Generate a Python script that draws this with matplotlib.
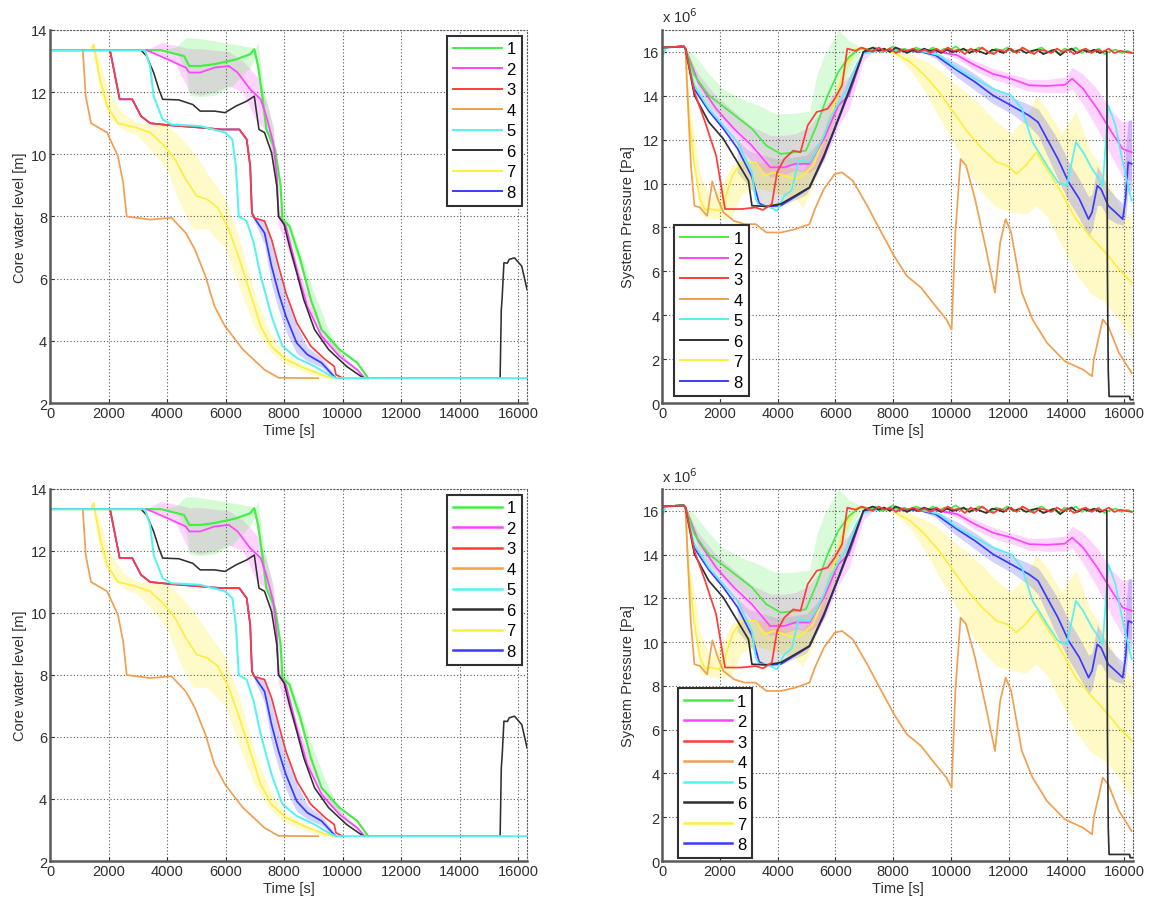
import numpy as np
import matplotlib
matplotlib.use("Agg")
import matplotlib.pyplot as plt
from matplotlib.lines import Line2D

plt.rcParams['font.family'] = ['Liberation Sans', 'DejaVu Sans']

labels = ['1', '2', '3', '4', '5', '6', '7', '8']
colors = ['#44ee44', '#ff44ff', '#ff3b3b', '#f0a050', '#55f2f2', '#303030', '#ffee40', '#3a3aff']

# ---------------- Core water level [m] ----------------
lv_t1 = [0, 3790, 4580, 4760, 5130, 5620, 6350, 6840, 6980, 7110, 7270, 7390, 7690, 7880, 7940, 8180, 8550, 8910, 9280, 9890, 10500, 10870]
lv_y1 = [13.35, 13.35, 13.16, 12.84, 12.84, 12.9, 13.05, 13.22, 13.38, 12.84, 11.77, 10.8, 10.16, 8.98, 7.9, 7.69, 6.62, 5.33, 4.36, 3.72, 3.29, 2.8]
lv_t2 = [0, 3300, 3910, 4640, 4760, 5130, 5620, 6110, 6410, 6840, 7200, 7390, 7630, 7750, 7810, 8060, 8430, 8790, 9280, 9890, 10500, 10750]
lv_y2 = [13.35, 13.35, 13.1, 12.79, 12.63, 12.63, 12.79, 12.84, 12.63, 12.09, 11.77, 11.23, 10.37, 9.3, 8.0, 7.69, 6.29, 5.11, 4.15, 3.5, 3.07, 2.8]
lv_t3 = [0, 2050, 2380, 2810, 3110, 3420, 4150, 5130, 5860, 6470, 6720, 6840, 6900, 6960, 7330, 7570, 7810, 8060, 8430, 8910, 9400, 9710, 9770, 10010]
lv_y3 = [13.35, 13.35, 11.77, 11.77, 11.23, 11.0, 10.93, 10.86, 10.8, 10.8, 10.48, 9.62, 8.12, 7.96, 7.85, 7.26, 6.4, 5.54, 4.58, 3.83, 3.4, 3.18, 2.91, 2.8]
lv_t4 = [0, 1120, 1220, 1400, 1950, 2320, 2500, 2620, 2930, 3420, 4150, 4640, 4950, 5310, 5620, 5980, 6590, 7330, 7810, 9160]
lv_y4 = [13.35, 13.35, 11.87, 11.0, 10.7, 9.94, 9.08, 8.0, 7.96, 7.9, 7.96, 7.47, 6.94, 6.08, 5.11, 4.47, 3.72, 3.07, 2.81, 2.8]
lv_t5 = [0, 3240, 3420, 3540, 3850, 4150, 5130, 5980, 6230, 6350, 6450, 6720, 6960, 7200, 7570, 7940, 8430, 9040, 9520, 9770, 16300]
lv_y5 = [13.35, 13.35, 12.84, 11.87, 11.12, 10.96, 10.91, 10.7, 10.48, 9.62, 8.0, 7.85, 7.15, 6.08, 4.79, 3.83, 3.45, 3.18, 2.91, 2.8, 2.8]
lv_t6 = [0, 3110, 3300, 3540, 3720, 3850, 4400, 4880, 5130, 5620, 5980, 6350, 6720, 6980, 7140, 7330, 7570, 7750, 7810, 8000,
         8180, 8430, 8670, 9040, 9520, 10130, 10620, 10750, 15380, 15420, 15450, 15510, 15630, 15690, 15870, 16120, 16300]
lv_y6 = [13.35, 13.35, 13.16, 12.63, 12.09, 11.77, 11.75, 11.6, 11.39, 11.39, 11.34, 11.55, 11.71, 11.87, 10.8, 10.7, 10.05, 8.98, 8.0, 7.74,
         7.05, 6.19, 5.33, 4.36, 3.72, 3.18, 2.86, 2.8, 2.8, 5.0, 5.4, 6.51, 6.5, 6.62, 6.67, 6.4, 5.65]
lv_t7 = [0, 1400, 1490, 1710, 1950, 2320, 2930, 3420, 3910, 4270, 4640, 5010, 5370, 5740, 6110, 6470, 6840, 7200, 7570, 8060, 8670, 9280, 9650]
lv_y7 = [13.35, 13.35, 13.54, 12.41, 11.55, 11.0, 10.86, 10.7, 10.27, 9.84, 9.19, 8.66, 8.55, 8.28, 7.58, 6.62, 5.54, 4.47, 3.82, 3.40, 3.13, 2.91, 2.8]
lv_t8 = [0, 2050, 2380, 2810, 3110, 3420, 4150, 5130, 5860, 6470, 6720, 6840, 6900, 7020, 7330, 7570, 7810, 8060, 8430, 8790, 9280, 9650, 9770]
lv_y8 = [13.35, 13.35, 11.77, 11.77, 11.23, 11.0, 10.93, 10.86, 10.8, 10.8, 10.48, 9.62, 8.12, 7.9, 7.47, 6.4, 5.54, 4.79, 3.93, 3.56, 3.29, 2.91, 2.8]

# uncertainty bands (level)
lvb_t1 = [3800, 4300, 4640, 4760, 5130, 5620, 6230, 6840, 7000, 7110, 7270, 7600, 8000, 8500, 9000, 9500, 10000, 10870]
lvb_hi1 = [13.35, 13.45, 13.75, 13.75, 13.72, 13.65, 13.55, 13.45, 13.4, 13.6, 12.3, 10.9, 8.3, 7.0, 5.6, 4.4, 3.5, 2.8]
lvb_lo1 = [13.35, 13.3, 12.7, 11.9, 11.85, 11.9, 12.2, 12.8, 13.1, 12.5, 11.3, 10.0, 7.7, 6.5, 5.1, 4.0, 3.3, 2.8]
lvb_t2 = [3300, 3790, 4300, 4760, 5130, 5620, 6110, 6590, 7080, 7390, 7630, 7810, 8430, 9280, 10750]
lvb_hi2 = [13.35, 13.6, 13.5, 13.4, 13.4, 13.35, 13.3, 13.0, 12.5, 11.7, 10.9, 8.4, 6.5, 4.3, 2.8]
lvb_lo2 = [13.35, 13.2, 12.9, 12.0, 11.9, 12.0, 12.2, 12.0, 11.0, 10.8, 9.8, 7.7, 6.1, 4.0, 2.8]
lvb_t7 = [1450, 1700, 2000, 2500, 3000, 3500, 4000, 4400, 4880, 5370, 5980, 6470, 7000, 7500, 8000, 8700, 9300, 9650]
lvb_hi7 = [13.6, 13.0, 12.0, 11.3, 11.0, 11.0, 10.95, 10.6, 10.1, 9.4, 8.6, 7.3, 5.5, 4.3, 3.6, 3.2, 2.95, 2.8]
lvb_lo7 = [13.35, 12.0, 11.2, 10.8, 10.6, 10.1, 9.5, 8.5, 7.6, 7.6, 7.0, 5.7, 4.4, 3.7, 3.25, 3.0, 2.8, 2.8]
lvb_t8 = [6960, 7330, 7570, 7810, 8060, 8430, 8790, 9280, 9650, 9770]
lvb_hi8 = [7.96, 7.9, 7.1, 6.2, 5.4, 4.5, 3.8, 3.45, 3.0, 2.8]
lvb_lo8 = [7.9, 7.1, 5.8, 5.0, 4.3, 3.6, 3.35, 3.15, 2.85, 2.8]

# ---------------- System pressure [x1e6 Pa] ----------------
pr_t1 = [0, 750, 810, 1120, 1620, 2370, 3110, 3610, 4110, 4610, 4980, 5350, 5730, 6100, 6470, 6850]
pr_y1 = [16.2, 16.25, 16.15, 14.93, 14.02, 13.26, 12.5, 11.73, 11.35, 11.43, 11.5, 12.65, 14.02, 15.09, 15.77, 16.15]
pr_n1 = [16.15, 16.05, 16.2, 16.0, 16.1, 16.25, 16.05, 16.15, 16.0, 16.2, 16.1, 16.05, 16.2, 16.0, 16.15, 16.1,
         16.25, 16.05, 16.1, 16.0, 16.2, 16.1, 15.95, 16.15, 16.05, 16.2, 16.0, 16.1, 16.15, 15.95, 16.1, 16.2,
         16.0, 16.1, 15.9, 16.15, 16.05, 16.2, 15.95, 16.1, 16.0, 16.15, 15.9, 16.05, 16.1, 15.95, 16.05, 15.95]
pr_t2 = [0, 750, 810, 1250, 1870, 2490, 3110, 3740, 4230, 4610, 5100, 5600, 6100, 6470, 6970, 7500, 8500, 9000, 9590, 10210,
         10830, 11450, 12080, 12700, 13320, 13940, 14190, 14570, 15060, 15560, 15940, 16250]
pr_y2 = [16.2, 16.25, 16.15, 14.63, 13.41, 12.5, 11.73, 10.74, 10.74, 10.9, 10.9, 12.04, 13.56, 14.02, 16.0, 16.1, 16.05, 16.1, 16.0, 15.85,
         15.39, 15.0, 14.78, 14.48, 14.45, 14.5, 14.78, 14.32, 13.41, 12.34, 11.58, 11.43]
pr_t3 = [0, 750, 810, 1120, 1490, 1870, 2120, 2180, 2740, 3240, 3490, 3800, 3980, 4230, 4540, 4790, 5040, 5350, 5730, 5980, 6230, 6410, 6700]
pr_y3 = [16.2, 16.25, 16.15, 14.17, 12.8, 11.28, 9.3, 8.84, 8.84, 8.91, 8.8, 9.07, 10.51, 11.12, 11.5, 11.43, 12.65, 13.26, 13.41, 13.87, 14.48, 16.15, 16.05]
pr_n3 = [16.2, 16.1, 16.0, 16.2, 16.05, 16.15, 15.95, 16.1, 16.05, 16.15, 16.0, 16.1, 15.95, 16.15, 16.0, 16.2,
         16.05, 16.1, 15.9, 16.15, 16.0, 16.2, 16.0, 15.9, 16.1, 16.0, 16.15, 15.95, 16.2, 16.05, 15.9, 16.1,
         16.05, 15.95, 16.15, 16.0, 16.1, 15.9, 16.05, 16.15, 15.95, 16.1, 16.0, 16.15, 15.95, 16.05, 16.0, 15.95]
pr_t4 = [0, 750, 810, 870, 1000, 1120, 1310, 1560, 1740, 1930, 2120, 2490, 2860, 3240, 3610, 4110, 4610, 5100, 5290, 5600,
         5980, 6230, 6600, 7100, 7590, 8030, 8470, 8960, 9460, 9840, 10020, 10150, 10330, 10520, 10830, 11210, 11520, 11700, 11890, 12080,
         12450, 12820, 13320, 13940, 14570, 14880, 14940, 15250, 15440, 15810, 16250]
pr_y4 = [16.2, 16.25, 16.15, 14.32, 10.82, 8.99, 8.91, 8.53, 10.09, 9.3, 8.69, 8.3, 8.15, 8.15, 7.77, 7.77, 7.92, 8.15, 8.84, 9.75,
         10.44, 10.51, 10.13, 8.99, 7.77, 6.7, 5.79, 5.26, 4.42, 3.81, 3.35, 7.77, 11.12, 10.82, 9.3, 7.01, 5.03, 7.31, 8.38, 7.77,
         5.03, 3.81, 2.74, 1.9, 1.52, 1.22, 1.98, 3.81, 3.5, 2.29, 1.37]
pr_t5 = [0, 125, 750, 810, 1120, 1620, 2120, 2610, 3110, 3240, 3360, 3610, 3980, 4230, 4480, 4730, 5100, 5350, 5600, 5850,
         6350, 6720, 6970, 7500, 8500, 9090, 9590, 10210, 10830, 11450, 12080, 12450, 12820, 13320, 13700, 14010, 14320, 14570, 14880, 15120,
         15250, 15440, 15690, 15940, 16250]
pr_y5 = [15.7, 16.18, 16.26, 16.15, 14.48, 13.41, 12.65, 11.89, 10.51, 9.3, 8.99, 8.99, 8.76, 9.45, 9.68, 11.05, 10.97, 11.5, 12.19, 13.1,
         14.17, 15.39, 15.92, 16.05, 16.1, 16.0, 15.85, 15.24, 14.78, 14.32, 14.02, 13.41, 11.89, 10.82, 10.06, 9.9, 11.89, 11.43, 10.67, 10.21,
         9.9, 13.56, 12.65, 10.97, 9.22]
pr_t6 = [0, 750, 810, 1120, 1620, 2120, 2610, 2990, 3110, 3610, 4110, 4610, 5100, 5600, 6100, 6600, 6970]
pr_y6 = [16.2, 16.25, 16.15, 14.02, 12.8, 12.04, 10.97, 10.13, 8.99, 8.96, 9.07, 9.45, 9.83, 11.28, 12.95, 14.7, 16.0]
pr_n6 = [16.1, 16.2, 16.05, 16.15, 16.0, 16.2, 16.1, 15.95, 16.1, 16.0, 16.15, 16.05, 16.1, 15.95, 16.1, 16.0,
         16.05, 16.15, 15.95, 16.1, 16.0, 15.9, 16.1, 16.05, 15.95, 16.15, 16.0, 16.1, 15.95, 16.05, 16.1, 15.9,
         16.0, 16.1, 15.85, 16.05, 16.15, 15.95, 16.1, 16.0, 16.1, 15.95, 16.05]
pr_t6_end = [15390, 15410, 15440, 15470, 16180, 16200, 16300]
pr_y6_end = [16.0, 6.25, 1.5, 0.3, 0.3, 0.15, 0.15]
pr_t7 = [0, 750, 810, 930, 1120, 1310, 1490, 1680, 1990, 2180, 2430, 2740, 3240, 3550, 3860, 4230, 4610, 4860, 5230, 5600,
         5980, 6350, 6720, 7300, 7970, 8590, 9090, 9590, 10080, 10580, 11080, 11580, 11950, 12260, 12580, 12950, 13320, 13820, 14320, 14820,
         15310, 15810, 16250]
pr_y7 = [16.2, 16.25, 16.15, 13.1, 10.82, 9.3, 8.8, 8.84, 8.76, 9.3, 10.36, 10.97, 10.97, 10.36, 10.51, 10.36, 10.21, 10.36, 10.82, 12.04,
         13.71, 15.39, 16.15, 16.1, 16.0, 15.54, 14.93, 14.17, 13.26, 12.34, 11.58, 10.97, 10.82, 10.44, 10.82, 11.43, 10.67, 9.6, 8.38, 7.6,
         6.9, 6.1, 5.5]
pr_t8 = [0, 750, 810, 1120, 1620, 2120, 2610, 3110, 3360, 3610, 4110, 4610, 5100, 5600, 6100, 6600, 6970, 7500, 8500, 8970,
         9460, 10210, 10830, 11450, 12080, 12700, 13010, 13320, 13700, 14070, 14440, 14760, 14880, 15060, 15190, 15440, 15690, 15940, 16040, 16130,
         16250]
pr_y8 = [16.2, 16.25, 16.15, 14.3, 13.3, 12.5, 11.6, 10.3, 9.1, 8.95, 9.0, 9.4, 9.8, 11.2, 12.9, 14.6, 16.0, 16.1, 16.05, 16.0,
         15.85, 15.16, 14.63, 14.02, 13.56, 13.1, 12.8, 12.04, 11.12, 10.06, 9.3, 8.38, 8.69, 9.9, 9.75, 8.99, 8.69, 8.38, 9.3, 10.97,
         10.9]

# uncertainty bands (pressure)
prb_t1 = [810, 1120, 1620, 2120, 2860, 3360, 3730, 3980, 4610, 4860, 5100, 5350, 5600, 6100, 6470, 6850, 7200]
prb_hi1 = [16.15, 15.85, 15.0, 14.3, 13.8, 13.56, 13.3, 13.18, 13.2, 13.26, 13.3, 14.9, 15.8, 17.0, 16.5, 16.25, 16.2]
prb_lo1 = [16.15, 14.5, 13.5, 12.9, 12.19, 11.5, 10.97, 10.9, 10.82, 10.9, 10.97, 11.5, 12.04, 13.7, 15.0, 16.0, 16.1]
prb_t2 = [810, 1250, 1870, 2490, 3110, 3740, 4230, 4610, 5100, 5600, 6100, 6470, 6970, 7300, 9590, 10210, 10830, 11450, 12080, 12700,
          13320, 13940, 14190, 14570, 15060, 15560, 15940, 16250]
prb_hi2 = [16.15, 15.0, 14.0, 13.3, 12.6, 12.2, 12.2, 12.27, 12.6, 13.5, 14.4, 14.9, 16.1, 16.1, 16.1, 16.0, 15.6, 15.25, 15.0, 14.75,
           14.75, 14.85, 15.3, 15.0, 14.3, 13.3, 12.8, 12.9]
prb_lo2 = [16.15, 14.3, 12.9, 11.9, 11.0, 10.3, 10.4, 10.6, 10.5, 11.0, 12.6, 13.4, 15.6, 16.0, 16.0, 15.7, 15.15, 14.75, 14.5, 14.2,
           14.15, 14.15, 14.3, 13.6, 12.5, 11.2, 10.3, 10.1]
prb_t6 = [2600, 3000, 3500, 4000, 4500, 5000, 5500, 6000, 6500, 6970]
prb_hi6 = [12.0, 11.5, 11.3, 11.1, 11.2, 11.3, 12.0, 13.5, 15.0, 16.0]
prb_lo6 = [10.5, 9.9, 8.9, 8.9, 9.2, 9.5, 10.8, 12.6, 14.4, 16.0]
prb_t7 = [930, 1310, 1680, 2180, 2430, 2740, 3240, 3860, 4610, 4860, 5230, 5600, 5980, 6350, 6720, 7970, 8590, 9090, 9590, 10080,
          10580, 11080, 11580, 12080, 12580, 12950, 13320, 13820, 14320, 14820, 15310, 15810, 16250]
prb_hi7 = [13.8, 10.5, 9.3, 10.2, 10.9, 11.0, 11.0, 10.9, 10.7, 10.6, 11.2, 12.5, 14.2, 15.7, 16.2, 16.1, 15.9, 15.6, 15.2, 14.6,
           14.1, 13.5, 12.8, 12.3, 13.0, 14.0, 13.4, 12.3, 13.3, 11.5, 10.5, 9.0, 8.4]
prb_lo7 = [12.5, 8.6, 8.4, 8.4, 8.5, 9.5, 9.8, 9.6, 9.3, 8.9, 9.8, 11.4, 13.1, 15.0, 16.1, 16.0, 15.2, 14.2, 13.0, 11.9,
           10.6, 9.6, 8.9, 8.7, 8.6, 9.0, 8.5, 7.2, 5.9, 5.0, 4.6, 3.8, 2.9]
prb_t8 = [8970, 9460, 10210, 10830, 11450, 12080, 12700, 13010, 13320, 13700, 14070, 14440, 14760, 14880, 15060, 15190, 15440, 15690, 15940, 16040,
          16130, 16250]
prb_hi8 = [16.05, 16.0, 15.5, 15.0, 14.4, 13.95, 13.6, 13.4, 12.8, 12.0, 11.0, 10.2, 9.4, 9.5, 10.8, 10.5, 9.8, 9.4, 9.1, 11.5,
           12.9, 12.9]
prb_lo8 = [16.0, 15.7, 14.85, 14.25, 13.65, 13.2, 12.6, 12.2, 11.3, 10.2, 9.2, 8.4, 7.6, 7.9, 9.0, 9.0, 8.4, 8.2, 8.1, 8.5,
           9.6, 9.7]

XMAX = 16300
LW = 1.25


def style_axes(ax, ymin, ymax, yticks):
    ax.set_xlim(0, XMAX)
    ax.set_ylim(ymin, ymax)
    ax.set_xticks(range(0, 16001, 2000))
    ax.set_yticks(yticks)
    ax.grid(True, linestyle=(0, (1, 2)), color='0.35', linewidth=0.8)
    for s in ['left', 'bottom']:
        ax.spines[s].set_color('#5a5a5a')
        ax.spines[s].set_linewidth(1.8)
    for s in ['top', 'right']:
        ax.spines[s].set_linestyle((0, (1, 2)))
        ax.spines[s].set_color('0.35')
        ax.spines[s].set_linewidth(0.8)
    ax.tick_params(direction='in', length=3, labelsize=10.5, colors='#303030', pad=2)
    ax.set_xlabel('Time [s]', fontsize=10.5, color='#303030', labelpad=2)


def add_legend(ax, loc, anchor, lw):
    handles = [Line2D([0], [0], color=c, lw=lw) for c in colors]
    leg = ax.legend(handles, labels, loc=loc, bbox_to_anchor=anchor, fontsize=12,
                    handlelength=2.9, handletextpad=0.3, labelspacing=0.33,
                    borderpad=0.35, fancybox=False, framealpha=1, borderaxespad=0)
    leg.get_frame().set_edgecolor('#303030')
    leg.get_frame().set_linewidth(1.5)


def draw_level(ax, leg_lw):
    ax.fill_between(lvb_t7, lvb_lo7, lvb_hi7, color=colors[6], alpha=0.28, lw=0)
    ax.fill_between(lvb_t2, lvb_lo2, lvb_hi2, color=colors[1], alpha=0.22, lw=0)
    ax.fill_between(lvb_t1, lvb_lo1, lvb_hi1, color=colors[0], alpha=0.22, lw=0)
    ax.fill_between(lvb_t8, lvb_lo8, lvb_hi8, color=colors[7], alpha=0.22, lw=0)
    ax.plot(lv_t8, lv_y8, color=colors[7], lw=LW)
    ax.plot(lv_t4, lv_y4, color=colors[3], lw=LW)
    ax.plot(lv_t7, lv_y7, color=colors[6], lw=LW)
    ax.plot(lv_t3, lv_y3, color=colors[2], lw=LW)
    ax.plot(lv_t1, lv_y1, color=colors[0], lw=LW + 0.3)
    ax.plot(lv_t2, lv_y2, color=colors[1], lw=LW)
    ax.plot(lv_t6, lv_y6, color=colors[5], lw=LW - 0.1)
    ax.plot(lv_t5, lv_y5, color=colors[4], lw=LW + 0.2)
    style_axes(ax, 2, 14, range(2, 15, 2))
    ax.set_ylabel('Core water level [m]', fontsize=10.5, color='#303030', labelpad=3)
    add_legend(ax, 'upper left', (0.833, 0.985), leg_lw)


def draw_pressure(ax, anchor, leg_lw):
    ax.fill_between(prb_t7, prb_lo7, prb_hi7, color=colors[6], alpha=0.3, lw=0)
    ax.fill_between(prb_t6, prb_lo6, prb_hi6, color=colors[5], alpha=0.14, lw=0)
    ax.fill_between(prb_t2, prb_lo2, prb_hi2, color=colors[1], alpha=0.22, lw=0)
    ax.fill_between(prb_t1, prb_lo1, prb_hi1, color=colors[0], alpha=0.2, lw=0)
    ax.fill_between(prb_t8, prb_lo8, prb_hi8, color=colors[7], alpha=0.22, lw=0)
    ax.plot(pr_t7, pr_y7, color=colors[6], lw=LW)
    ax.plot(pr_t4, pr_y4, color=colors[3], lw=LW)
    ax.plot(pr_t2, pr_y2, color=colors[1], lw=LW)
    ax.plot(pr_t8, pr_y8, color=colors[7], lw=LW)
    ax.plot(pr_t5, pr_y5, color=colors[4], lw=LW)
    tn = np.linspace(7000, 16300, len(pr_n1))
    ax.plot(list(pr_t1) + list(tn), list(pr_y1) + list(pr_n1), color=colors[0], lw=LW)
    tn6 = np.linspace(7100, 15350, len(pr_n6))
    ax.plot(list(pr_t6) + list(tn6) + pr_t6_end, list(pr_y6) + list(pr_n6) + pr_y6_end, color=colors[5], lw=LW)
    tn3 = np.linspace(6900, 16250, len(pr_n3))
    ax.plot(list(pr_t3) + list(tn3), list(pr_y3) + list(pr_n3), color=colors[2], lw=LW)
    style_axes(ax, 0, 17, range(0, 17, 2))
    ax.set_ylabel('System Pressure [Pa]', fontsize=10.5, color='#303030', labelpad=6)
    ax.text(0.0, 1.012, r'x 10$^{6}$', transform=ax.transAxes, ha='left', va='bottom',
            fontsize=10.5, color='#303030')
    add_legend(ax, 'lower left', anchor, leg_lw)


fig = plt.figure(figsize=(11.5, 9.03), dpi=100)
ax_tl = fig.add_axes([0.0435, 0.5526, 0.4148, 0.4131])
ax_tr = fig.add_axes([0.5757, 0.5526, 0.4096, 0.4131])
ax_bl = fig.add_axes([0.0435, 0.0454, 0.4148, 0.412])
ax_br = fig.add_axes([0.5757, 0.0454, 0.4096, 0.412])

draw_level(ax_tl, 1.4)
draw_pressure(ax_tr, (0.026, 0.02), 1.4)
draw_level(ax_bl, 1.8)
draw_pressure(ax_br, (0.034, 0.008), 1.8)

fig.savefig('out.png', dpi=100)
